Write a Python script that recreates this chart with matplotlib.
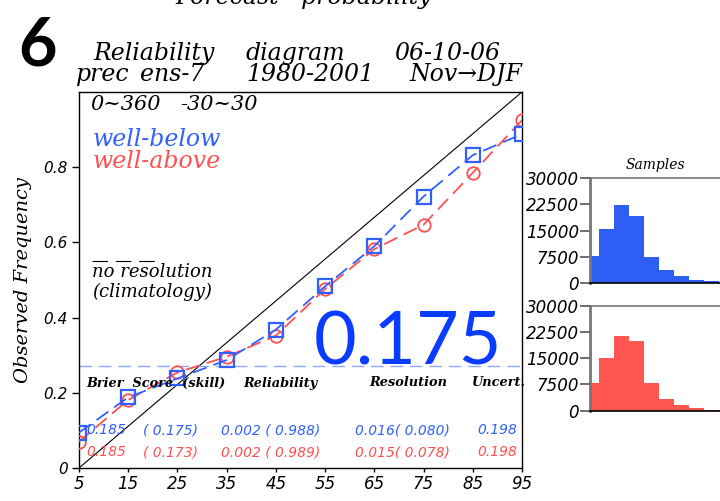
import numpy as np
import matplotlib.pyplot as plt

# forecast probability bins (%)
prob = [5, 15, 25, 35, 45, 55, 65, 75, 85, 95]
obs_below = [0.094, 0.188, 0.238, 0.287, 0.368, 0.483, 0.590, 0.722, 0.832, 0.888]
obs_above = [0.070, 0.181, 0.254, 0.296, 0.352, 0.476, 0.582, 0.647, 0.785, 0.925]
clim = 0.27
skill = "0.175"

samples_below = [7800, 15500, 22200, 19200, 7430, 3600, 2100, 950, 570, 300]
samples_above = [7830, 15000, 21350, 19900, 7830, 3260, 1540, 690, 300, 200]
hist_ticks = [0, 7500, 15000, 22500, 30000]

blue = '#3060ff'
red = '#ff5050'
serif = 'DejaVu Serif'

fig = plt.figure(figsize=(7.2, 5.01), dpi=100)

ax = fig.add_axes([0.1097, 0.0659, 0.6153, 0.7505])
ax.set_xlim(5, 95)
ax.set_ylim(0, 1.0)
ax.plot([5, 95], [0, 1.0], color='black', lw=0.8)
ax.axhline(clim, color='#8aa8ff', lw=1.0, dashes=[9, 5])
ax.plot(prob, obs_below, color=blue, lw=1.3, dashes=[8, 4], marker='s',
        ms=10, mfc='none', mec=blue, mew=1.6, zorder=4)
ax.plot(prob, obs_above, color=red, lw=1.3, dashes=[8, 4], marker='o',
        ms=9, mfc='none', mec=red, mew=1.3, zorder=3)

ax.set_xticks(prob)
ax.set_yticks([0, 0.2, 0.4, 0.6, 0.8])
ax.set_yticklabels(['0', '0.2', '0.4', '0.6', '0.8'], fontstyle='italic', fontsize=11)
ax.set_xticklabels([str(p) for p in prob], fontstyle='italic', fontsize=12)
ax.tick_params(axis='y', direction='out', length=5, width=1, pad=3)
ax.tick_params(axis='x', direction='out', length=3, width=1, pad=2)
for s in ax.spines.values():
    s.set_linewidth(1.0)
ax.set_ylabel('Observed Frequency', family=serif, fontstyle='italic', fontsize=14, labelpad=8)

# annotations inside the diagram (positions in pixels of the figure)
def ftext(x, y, s, **kw):
    fig.text(x / 720, 1 - y / 501, s, **kw)

ftext(90, 105, '0~360', family=serif, style='italic', fontsize=15, va='center')
ftext(180, 105, '-30~30', family=serif, style='italic', fontsize=15, va='center')
ftext(93, 139, 'well-below', family=serif, style='italic', fontsize=17, color=blue, va='center')
ftext(93, 161, 'well-above', family=serif, style='italic', fontsize=17, color=red, va='center')
ax.plot([0.03, 0.177], [0.551, 0.551], transform=ax.transAxes, color='black', lw=0.8,
        dashes=[14, 7])
ftext(92, 272, 'no resolution', family=serif, style='italic', fontsize=13, va='center')
ftext(92, 292, '(climatology)', family=serif, style='italic', fontsize=13, va='center')

ax.text(0.53, 0.276, skill, transform=ax.transAxes, family='Lato', fontsize=53,
        color='#0a3cff', va='baseline', zorder=6)

for x, s in [(86, 'Brier  Score  (skill)'), (243, 'Reliability'),
             (369, 'Resolution'), (472, 'Uncert.')]:
    ftext(x, 383, s, family=serif, style='italic', weight='bold', fontsize=9.3,
          va='center', zorder=5)

rows = [(430, blue, ['0.185', '( 0.175)', '0.002 ( 0.988)', '0.016( 0.080)', '0.198']),
        (452, red, ['0.185', '( 0.173)', '0.002 ( 0.989)', '0.015( 0.078)', '0.198'])]
cols = [86, 143, 221, 355, 477]
for y, c, vals in rows:
    for x, v in zip(cols, vals):
        ftext(x, y, v, style='italic', fontsize=10, color=c, va='center', zorder=5)

# titles (word centres)
tkw = dict(family=serif, style='italic', fontsize=17, va='baseline', ha='center')
for x, y, s in [(154, 60, 'Reliability'), (295, 60, 'diagram'), (447, 60, '06-10-06'),
                (103, 81, 'prec'), (172, 81, 'ens-7'), (310, 81, '1980-2001'),
                (466, 81, 'Nov\u2192DJF')]:
    ftext(x, y, s, **tkw)
ftext(304, 4, 'Forecast   probability', **tkw)
ftext(18, 66, '6', family='Lato', weight='bold', fontsize=48, va='baseline')

# sample histograms
for bottom, vals, col in [(0.4351, samples_below, '#2f5ef5'), (0.1802, samples_above, '#ff5750')]:
    hx = fig.add_axes([590 / 720, bottom, 144 / 720, 0.2096])
    hx.bar(np.arange(len(vals)), vals, width=1.0, align='edge', color=col, lw=0)
    hx.set_xlim(0.4, 10)
    hx.set_ylim(0, 30000)
    hx.set_yticks(hist_ticks)
    hx.set_yticklabels([str(t) for t in hist_ticks], fontstyle='italic', fontsize=12)
    hx.set_xticks([])
    hx.tick_params(axis='y', direction='out', length=7, width=1.2, pad=1, color='#555555')
    hx.spines['left'].set_color('#777777')
    hx.spines['left'].set_linewidth(2)
    hx.spines['top'].set_color('#777777')
    hx.spines['top'].set_linewidth(1.2)
    hx.spines['bottom'].set_linewidth(1.2)
    hx.spines['right'].set_visible(False)
    hx.patch.set_alpha(0)

ftext(655, 165, 'Samples', family=serif, style='italic', fontsize=10, ha='center', va='center')

fig.savefig('out.png', dpi=100)
